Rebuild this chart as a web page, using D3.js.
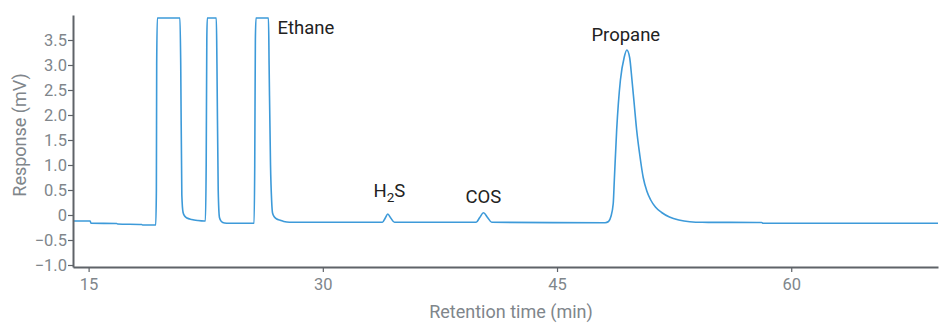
<!DOCTYPE html>
<html>
<head>
<meta charset="utf-8">
<script src="https://cdn.jsdelivr.net/npm/d3@7"></script>
<style>
  html, body { margin: 0; padding: 0; background: #fff; }
  svg { display: block; font-family: Roboto, "Noto Sans", sans-serif; }
</style>
</head>
<body>
<svg id="chart" width="940" height="325"></svg>
<script>
// ---- data ----
const times = [
  14.0, 15.1, 15.15, 16.8, 16.85, 18.4, 18.45, 19.3, 19.34, 19.36, 19.4, 20.85, 20.9, 20.97, 21.05, 21.15, 21.3, 21.6, 22.0, 22.4, 22.48,
  22.53, 22.57, 22.6, 23.18, 23.22, 23.3, 23.38, 23.5, 23.7, 24.0, 25.6, 25.64, 25.68, 25.72, 26.52, 26.56, 26.65, 26.72, 26.78, 26.9,
  27.05, 27.23, 27.5, 27.87, 28.5, 33.82, 34.0, 34.16, 34.35, 34.59, 39.82, 40.05, 40.29, 40.55, 40.82,
  48.08, 48.3, 48.45, 48.6, 48.67, 48.82, 49.06, 49.3, 49.47, 49.65, 49.8, 49.95, 50.1, 50.3, 50.52, 50.75, 51.0, 51.3, 51.7, 52.2,
  52.8, 53.5, 54.3, 58.1, 58.2, 69.4
];
const response = [
  -0.12, -0.12, -0.165, -0.17, -0.18, -0.19, -0.2, -0.2, 0.5, 3.0, 3.94, 3.94, 3.0, 0.4, 0.05, -0.02, -0.06, -0.09, -0.11, -0.12, -0.12,
  1.0, 3.5, 3.94, 3.94, 3.0, 0.5, -0.05, -0.13, -0.16, -0.166, -0.166, 1.0, 3.5, 3.94, 3.94, 3.0, 1.0, 0.3, 0.04, -0.04,
  -0.08, -0.1, -0.13, -0.146, -0.146, -0.146, -0.06, 0.02, -0.06, -0.146, -0.146, -0.05, 0.046, -0.05, -0.146,
  -0.155, -0.13, -0.03, 0.23, 0.7, 1.7, 2.7, 3.15, 3.3, 3.15, 2.7, 2.2, 1.7, 1.2, 0.75, 0.48, 0.3, 0.16, 0.05, -0.04,
  -0.1, -0.135, -0.146, -0.15, -0.166, -0.166
];
const xTicks = [15, 30, 45, 60];
const yTicks = [-1.0, -0.5, 0, 0.5, 1.0, 1.5, 2.0, 2.5, 3.0, 3.5];
const peakLabels = ["Ethane", "H2S", "COS", "Propane"];
const labelTimes = [27.1, 33.25, 39.14, 47.2];
const labelValues = [3.62, 0.36, 0.24, 3.48];

// ---- layout ----
const svg = d3.select("#chart");
const margin = { left: 73, right: 2, top: 15, bottom: 58 };
const W = 940, H = 325;

const x = d3.scaleLinear().domain([14.0, 69.4]).range([margin.left, W - margin.right]);
const y = d3.scaleLinear().domain([-1.04, 4.0]).range([H - margin.bottom, margin.top]);

const points = times.map((t, i) => [t, response[i]]);

// line
const line = d3.line().x(d => x(d[0])).y(d => y(d[1])).curve(d3.curveMonotoneX);
svg.append("path")
  .datum(points)
  .attr("fill", "none")
  .attr("stroke", "#3d9ad9")
  .attr("stroke-width", 1.6)
  .attr("stroke-linejoin", "round")
  .attr("d", line);

// axes
const axisColor = "#5f6368";
const tickTextColor = "#80868b";

const yAxis = svg.append("g")
  .attr("transform", `translate(${margin.left},0)`)
  .call(d3.axisLeft(y).tickValues(yTicks).tickSize(5).tickSizeOuter(0)
    .tickFormat(d => d === 0 ? "0" : d3.format(".1f")(d)));
const xAxis = svg.append("g")
  .attr("transform", `translate(0,${H - margin.bottom})`)
  .call(d3.axisBottom(x).tickValues(xTicks).tickSize(5).tickSizeOuter(0).tickFormat(d3.format("d")));

[yAxis, xAxis].forEach(g => {
  g.select(".domain").attr("stroke", axisColor).attr("stroke-width", 2);
  g.selectAll(".tick line").attr("stroke", axisColor).attr("stroke-width", 1.2);
  g.selectAll(".tick text").attr("fill", tickTextColor).style("font-size", "16.5px").style("font-family", "Roboto, sans-serif");
});
yAxis.selectAll(".tick text").attr("x", -6);
xAxis.selectAll(".tick text").attr("y", 11);

// axis titles
svg.append("text")
  .attr("transform", `translate(26,135) rotate(-90)`)
  .attr("text-anchor", "middle")
  .attr("fill", tickTextColor)
  .style("font-size", "18px")
  .text("Response (mV)");
svg.append("text")
  .attr("x", 511)
  .attr("y", 318)
  .attr("text-anchor", "middle")
  .attr("fill", tickTextColor)
  .style("font-size", "18px")
  .text("Retention time (min)");

// peak labels
peakLabels.forEach((lab, i) => {
  const t = svg.append("text")
    .attr("x", x(labelTimes[i]))
    .attr("y", y(labelValues[i]))
    .attr("fill", "#222")
    .style("font-size", "18.5px");
  if (lab === "H2S") {
    t.append("tspan").text("H");
    t.append("tspan").attr("dy", 5).style("font-size", "13.5px").text("2");
    t.append("tspan").attr("dy", -5).text("S");
  } else {
    t.text(lab);
  }
});
</script>
</body>
</html>
